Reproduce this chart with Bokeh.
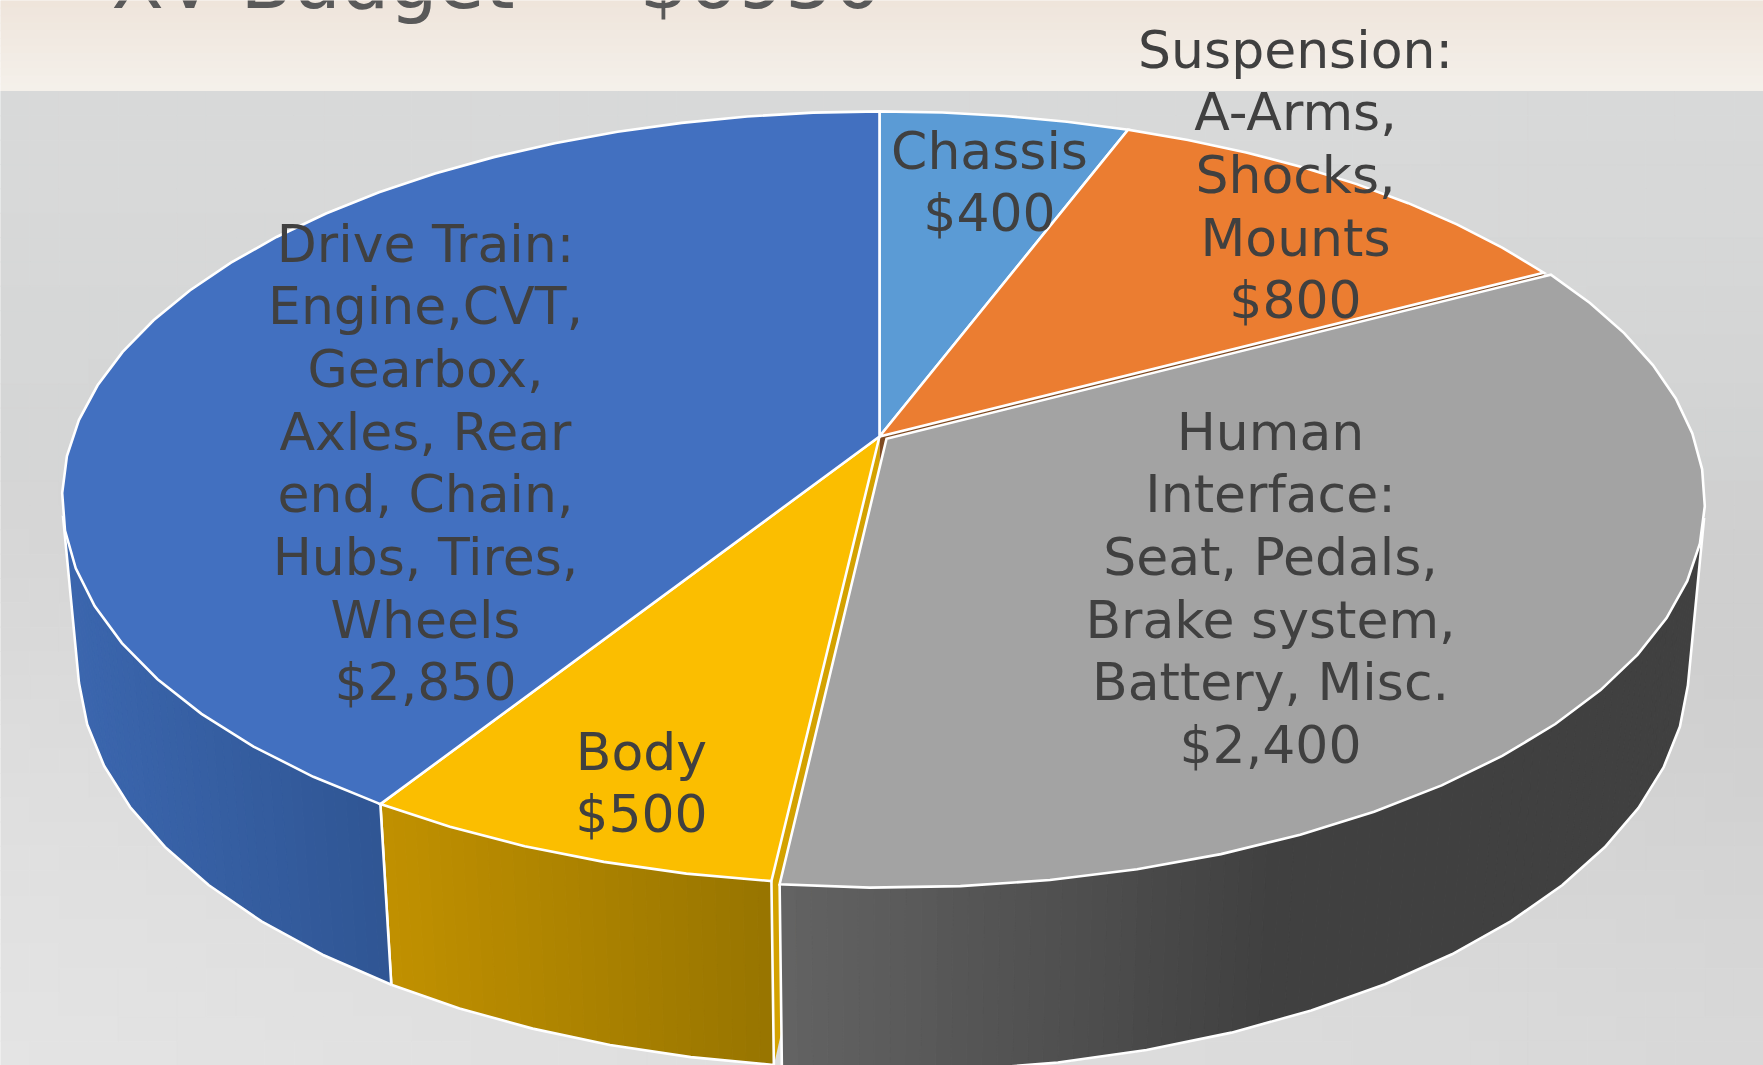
import math
import numpy as np
from bokeh.plotting import figure
from bokeh.models import Range1d
from bokeh.core.properties import value
from bokeh.embed import file_html
from bokeh.resources import INLINE

# ---- data
categories = ["Chassis", "Suspension", "Human Interface", "Body", "Drive Train"]
amounts = [400, 800, 2400, 500, 2850]
top_colors = ["#5B9BD5", "#EB7D31", "#A3A3A3", "#FBBE00", "#4270C0"]
title_text = "XV Budget \u2014 $6950"
label_lines = [
    ["Chassis", "$400"],
    ["Suspension:", "A-Arms,", "Shocks,", "Mounts", "$800"],
    ["Human", "Interface:", "Seat, Pedals,", "Brake system,", "Battery, Misc.", "$2,400"],
    ["Body", "$500"],
    ["Drive Train:", "Engine,CVT,", "Gearbox,", "Axles, Rear", "end, Chain,", "Hubs, Tires,", "Wheels", "$2,850"],
]

# ---- layout and style
W, H = 1763, 1065
label_x = [989, 1295, 1270, 641, 425]
label_y0 = [150, 49, 431, 751, 243]
line_step = 62.7
CX, CY = 879.0, 436.0
AX, AY, K = 807.0, 376.8, 0.159    # perspective of the pie's top plane
BH, MH = 167.0, 0.0194             # depth of the wall
FACET = 5.5
SUB = 6
EXPLODE = [0, 0, 0.0105, 0, 0]
wall_grad = {
    2: ((0x63, 0x63, 0x63), (0x40, 0x40, 0x40), 780, 1280),
    3: ((0xC0, 0x90, 0x00), (0x97, 0x74, 0x00), 390, 772),
    4: ((0x3B, 0x66, 0xAE), (0x2F, 0x55, 0x93), 65, 390),
}


def project(px, py, down=False):
    w = 1 + K * py + (MH if down else 0)
    return CX + AX * px / w, CY - (AY * py - (BH if down else 0)) / w


def rim(deg, off=(0, 0), down=False):
    t = math.radians(deg)
    return project(math.sin(t) + off[0], math.cos(t) + off[1], down)


def mix(a, b, t):
    return a[0] + (b[0] - a[0]) * t, a[1] + (b[1] - a[1]) * t


p = figure(width=W, height=H, output_backend="svg", toolbar_location=None,
           x_range=Range1d(0, W), y_range=Range1d(H, 0),
           min_border=0, outline_line_color=None)
p.axis.visible = False
p.grid.visible = False

# background
band = 91
n = 12
c0, c1 = np.array([0xEF, 0xE5, 0xDB]), np.array([0xF5, 0xF1, 0xEB])
tops = [band * i / n for i in range(n)]
bots = [band * (i + 1) / n for i in range(n)]
cols = ["#%02X%02X%02X" % tuple(int(v) for v in c0 + (c1 - c0) * (i + .5) / n) for i in range(n)]
p.quad(left=0, right=W, top=tops, bottom=bots, fill_color=cols, line_color=cols)

ny, nx = 40, 60
ys_g = np.linspace(band, H, ny + 1)
xs_g = np.linspace(0, W, nx + 1)
L, R, T, B, A = [], [], [], [], []
for j in range(ny):
    v = (j + .5) / ny
    for i in range(nx):
        u = (i + .5) / nx
        left = 217 + (228 - 217) * v ** 1.6 - 6 * math.exp(-((v - .4) / .25) ** 2)
        right = 216 + (217 - 216) * v - 10 * math.exp(-((v - .55) / .3) ** 2)
        g = int(round(left + (right - left) * u))
        L.append(xs_g[i]); R.append(xs_g[i + 1]); T.append(ys_g[j]); B.append(ys_g[j + 1])
        A.append("#%02X%02X%02X" % (g, g + 1, g + 1) if v < .4 else "#%02X%02X%02X" % (g, g, g))
p.quad(left=L, right=R, top=T, bottom=B, fill_color=A, line_color=A)

# angles
total = sum(amounts)
starts, ends = [], []
acc = 0.0
for a in amounts:
    starts.append(acc / total * 360)
    acc += a
    ends.append(acc / total * 360)

offs = []
for i in range(len(amounts)):
    mid = math.radians((starts[i] + ends[i]) / 2)
    offs.append((EXPLODE[i] * math.sin(mid), EXPLODE[i] * math.cos(mid)))

WHITE = "#FFFFFF"
LW = 2.6

# radial faces seen in the gaps either side of the pulled-out slice
radial_faces = [(1, ends[1], "#7E4A22"), (3, starts[3], "#D4A200")]
for i, ang, col in radial_faces:
    a0 = project(offs[i][0], offs[i][1])
    a1 = project(offs[i][0], offs[i][1], True)
    r0 = rim(ang, offs[i])
    r1 = rim(ang, offs[i], True)
    p.patch([a0[0], r0[0], r1[0], a1[0]], [a0[1], r0[1], r1[1], a1[1]],
            fill_color=col, line_color=None)

# outer walls
bm = BH / MH
yv = -bm / (AY + K * bm)
theta_s = math.degrees(math.acos(1 / yv))
for i, (cA, cB, x0, x1) in wall_grad.items():
    a = max(starts[i], theta_s)
    b = min(ends[i], 360 - theta_s)
    steps = max(2, int(round((b - a) / FACET)))
    angs = [a + (b - a) * s / steps for s in range(steps + 1)]
    xs, ys, fc = [], [], []
    for s in range(steps):
        p0, p1 = rim(angs[s], offs[i]), rim(angs[s + 1], offs[i])
        q0, q1 = rim(angs[s], offs[i], True), rim(angs[s + 1], offs[i], True)
        for m in range(SUB):
            t0, t1 = m / SUB, (m + 1) / SUB
            u0, u1 = mix(p0, p1, t0), mix(p0, p1, t1)
            d0, d1 = mix(q0, q1, t0), mix(q0, q1, t1)
            xs.append([u0[0], u1[0], d1[0], d0[0]])
            ys.append([u0[1], u1[1], d1[1], d0[1]])
            f = min(1, max(0, ((u0[0] + u1[0]) / 2 - x0) / (x1 - x0)))
            fc.append("#%02X%02X%02X" % tuple(int(round(cA[k] + (cB[k] - cA[k]) * f)) for k in range(3)))
    p.patches(xs, ys, fill_color=fc, line_color=fc, line_width=1)
    arc = [rim(t, offs[i], True) for t in angs]
    e0 = rim(angs[0], offs[i])
    e1 = rim(angs[-1], offs[i])
    outline = [e0] + arc + [e1]
    p.line([q[0] for q in outline], [q[1] for q in outline], line_color=WHITE, line_width=LW)

# top faces, pulled-out slice last
for i in [0, 1, 3, 4, 2]:
    a, b = starts[i], ends[i]
    steps = max(2, int(round((b - a) / FACET)))
    pts = [project(offs[i][0], offs[i][1])] + [rim(a + (b - a) * s / steps, offs[i]) for s in range(steps + 1)]
    p.patch([q[0] for q in pts], [q[1] for q in pts], fill_color=top_colors[i],
            line_color=WHITE, line_width=LW, line_join="miter")

# labels
for i, lines in enumerate(label_lines):
    p.text(x=[label_x[i]] * len(lines), y=[label_y0[i] + line_step * k for k in range(len(lines))],
           text=lines, text_font=value("DejaVu Sans"), text_font_size="52px",
           text_color="#404040", text_align="center", text_baseline="middle")

p.text(x=[111], y=[-19], text=[title_text], text_font=value("DejaVu Sans"), text_font_size="76.3px",
       text_color="#595959", text_align="left", text_baseline="alphabetic")

open("out.html", "w").write(file_html(p, INLINE))
